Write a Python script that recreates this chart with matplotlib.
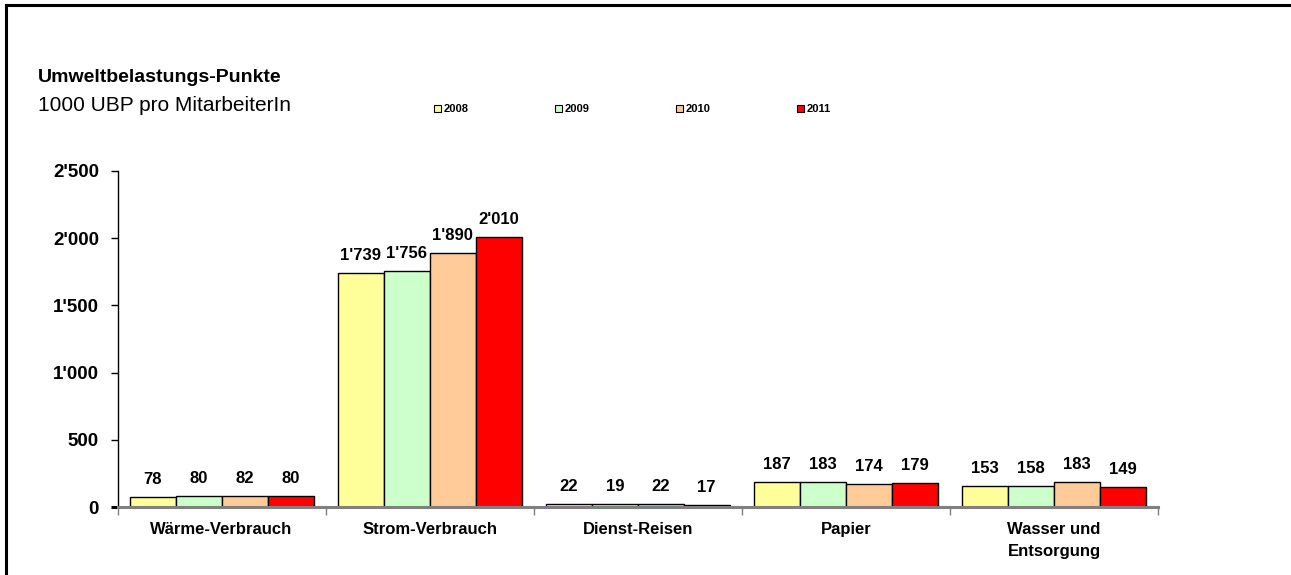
import matplotlib
matplotlib.use("Agg")
import matplotlib.pyplot as plt
from matplotlib.patches import Patch
from matplotlib.lines import Line2D
import numpy as np

# ===== Daten =====
kategorien = ["Wärme-Verbrauch", "Strom-Verbrauch", "Dienst-Reisen", "Papier", "Wasser und\nEntsorgung"]
jahre = ["2008", "2009", "2010", "2011"]
werte_2008 = [78, 1739, 22, 187, 153]
werte_2009 = [80, 1756, 19, 183, 158]
werte_2010 = [82, 1890, 22, 174, 183]
werte_2011 = [80, 2010, 17, 179, 149]
farben = ["#FFFF99", "#CCFFCC", "#FFCC99", "#FF0000"]
y_ticks = [0, 500, 1000, 1500, 2000, 2500]

plt.rcParams["font.family"] = ["Liberation Sans", "DejaVu Sans"]

W, H = 1291, 575
fig = plt.figure(figsize=(W / 100, H / 100), dpi=100)
ax = fig.add_axes([117.5 / W, 1 - 507 / H, (1158 - 117.5) / W, (507 - 171) / H])

x = np.arange(len(kategorien))
breite = 0.221
serien = [werte_2008, werte_2009, werte_2010, werte_2011]

def fmt(v):
    return f"{v:,}".replace(",", "'")

for i, (werte, farbe) in enumerate(zip(serien, farben)):
    pos = x + (i - 1.5) * breite
    ax.bar(pos, werte, width=breite, color=farbe, edgecolor="black", linewidth=1.0, zorder=2)
    for px, v in zip(pos, werte):
        ax.annotate(fmt(v), (px, v), xytext=(0, 12.6), textcoords="offset points",
                    ha="center", va="center", fontsize=12, fontweight="bold")

ax.set_xlim(-0.5, len(kategorien) - 0.5)
ax.set_ylim(0, 2500)
ax.set_yticks(y_ticks)
ax.set_yticklabels([fmt(t) for t in y_ticks], fontsize=13.5, fontweight="bold")
ax.tick_params(axis="y", direction="out", length=5.4, width=1, pad=8)
t0 = ax.yaxis.get_major_ticks()[0]
t0.tick1line.set_color("#808080")
t0.tick1line.set_markeredgewidth(2.2)

ax.set_xticks(x)
ax.set_xticklabels(kategorien, fontsize=12, fontweight="bold", linespacing=1.55)
ax.tick_params(axis="x", which="major", length=0, pad=11)
ax.set_xticks(np.arange(-0.5, len(kategorien)), minor=True)
ax.tick_params(axis="x", which="minor", direction="out", length=6, width=1, color="#808080")

for s in ["top", "right"]:
    ax.spines[s].set_visible(False)
ax.spines["left"].set_linewidth(1.0)
ax.spines["bottom"].set_color("#808080")
ax.spines["bottom"].set_linewidth(2.2)
ax.spines["bottom"].set_zorder(3)

# Titel
fig.text(38 / W, 1 - 77 / H, "Umweltbelastungs-Punkte", fontsize=14, fontweight="bold", va="center")
fig.text(38 / W, 1 - 105 / H, "1000 UBP pro MitarbeiterIn", fontsize=15, va="center")

# Legende
handles = [Patch(facecolor=f, edgecolor="black", linewidth=0.8) for f in farben]
leg = fig.legend(handles, jahre, loc="center left", bbox_to_anchor=(424 / W, 1 - 109 / H),
                 ncol=4, frameon=False, handlelength=0.6, handleheight=0.6,
                 handletextpad=0.3, columnspacing=7.75,
                 prop={"size": 8, "weight": "bold"})

# Rahmen
fig.add_artist(Line2D([6 / W, 1], [1 - 5 / H, 1 - 5 / H], color="black", linewidth=2.2))
fig.add_artist(Line2D([6 / W, 6 / W], [0, 1 - 5 / H], color="black", linewidth=2.2))

fig.savefig("out.png", dpi=100)
